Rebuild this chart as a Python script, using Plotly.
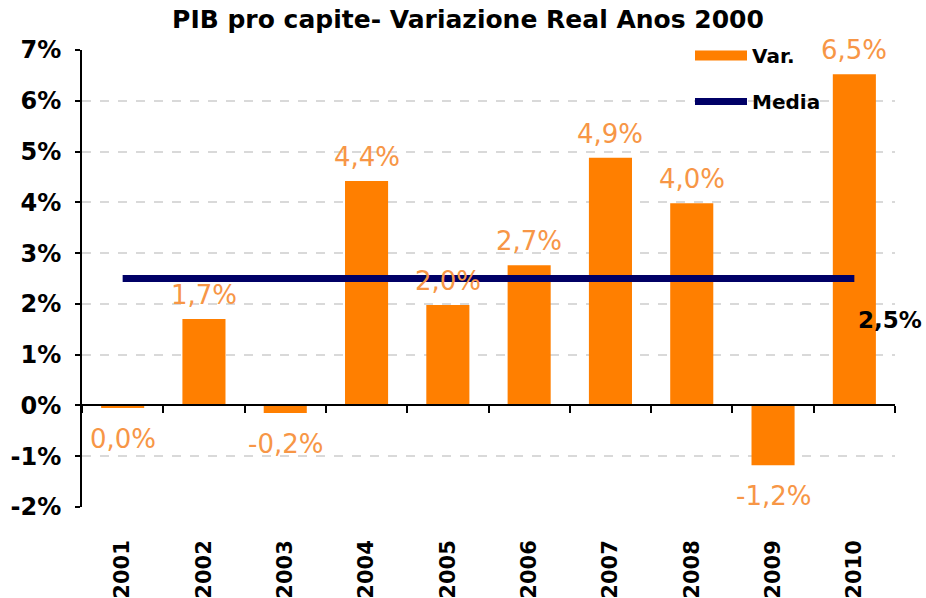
import plotly.graph_objects as go

years = ["2001", "2002", "2003", "2004", "2005", "2006", "2007", "2008", "2009", "2010"]
var_values = [-0.05, 1.7, -0.15, 4.42, 1.98, 2.76, 4.88, 3.98, -1.18, 6.52]
var_labels = ["0,0%", "1,7%", "-0,2%", "4,4%", "2,0%", "2,7%", "4,9%", "4,0%", "-1,2%", "6,5%"]
media_value = 2.5
media_values = [media_value] * len(years)
media_label = "2,5%"
y_tickvals = [-2, -1, 0, 1, 2, 3, 4, 5, 6, 7]
y_ticktext = ["-2%", "-1%", "0%", "1%", "2%", "3%", "4%", "5%", "6%", "7%"]
title_text = "PIB pro capite- Variazione Real Anos 2000"

BAR = "#FF7F00"
LABEL = "#F79646"
NAVY = "#000066"
FONT_B = "DejaVu Sans"

fig = go.Figure()
fig.add_trace(go.Bar(
    x=years, y=var_values, name="Var.", marker=dict(color=BAR, line=dict(width=0)),
    legendgroup="a", showlegend=False, xaxis="x", yaxis="y",
))
# legend swatch for the bar series (wide block like the original legend key)
fig.add_trace(go.Scatter(
    x=[None], y=[None], name="Var.", mode="lines",
    line=dict(color=BAR, width=16), legendgroup="a", xaxis="x", yaxis="y",
))
fig.add_trace(go.Scatter(
    x=years, y=media_values, name="Media", mode="lines",
    line=dict(color=NAVY, width=7), legendgroup="b", xaxis="x2", yaxis="y",
))

annotations = []
for i, (v, t) in enumerate(zip(var_values, var_labels)):
    annotations.append(dict(
        x=i, y=v, xref="x", yref="y", text=t, showarrow=False,
        yshift=24 if v >= 0 else -31,
        font=dict(family="DejaVu Sans", size=26, color=LABEL),
    ))
annotations.append(dict(
    x=len(years) - 1, y=media_values[-1], xref="x", yref="y", text=media_label, showarrow=False,
    xshift=36, yshift=-41, font=dict(family=FONT_B, size=23, color="black", weight="bold"),
))

fig.update_layout(
    width=926, height=598,
    margin=dict(l=82, r=31, t=50, b=91, autoexpand=False),
    paper_bgcolor="white", plot_bgcolor="white",
    bargap=0.47,
    title=dict(text=title_text, x=468 / 926, xref="container", xanchor="center",
               y=1 - 19 / 598, yanchor="middle",
               font=dict(family=FONT_B, size=25, color="black", weight="bold")),
    xaxis=dict(type="category", categoryorder="array", categoryarray=years,
               range=[-0.5, 9.5], showline=False, showgrid=False, ticks="",
               tickangle=-90, ticklabelstandoff=28, automargin=False,
               tickfont=dict(family=FONT_B, size=21, color="black", weight="bold")),
    xaxis2=dict(type="category", categoryorder="array", categoryarray=years,
                range=[-0.5, 9.5], overlaying="x", anchor="free", position=2 / 9,
                showline=True, linecolor="black", linewidth=2, automargin=False,
                ticks="outside", tickson="boundaries", ticklen=7, tickcolor="black",
                tickwidth=2, showticklabels=False, showgrid=False),
    yaxis=dict(range=[-2, 7], tickvals=y_tickvals, ticktext=y_ticktext,
               showline=True, linecolor="black", linewidth=2, automargin=False,
               ticks="outside", ticklen=5, tickcolor="black", tickwidth=2,
               showgrid=True, gridcolor="#D9D9D9", griddash="dash", gridwidth=2,
               zeroline=False, ticklabelstandoff=9,
               tickfont=dict(family=FONT_B, size=24, color="black", weight="bold")),
    legend=dict(xref="container", yref="container", x=690 / 926, y=1 - 36 / 598,
                xanchor="left", yanchor="top", itemwidth=52,
                traceorder="grouped", tracegroupgap=17, bgcolor="rgba(0,0,0,0)",
                font=dict(family=FONT_B, size=20, color="black", weight="bold")),
    annotations=annotations,
)

fig.write_html("out.html", config={"displayModeBar": False},
               post_script="document.body.style.margin='0px';")
